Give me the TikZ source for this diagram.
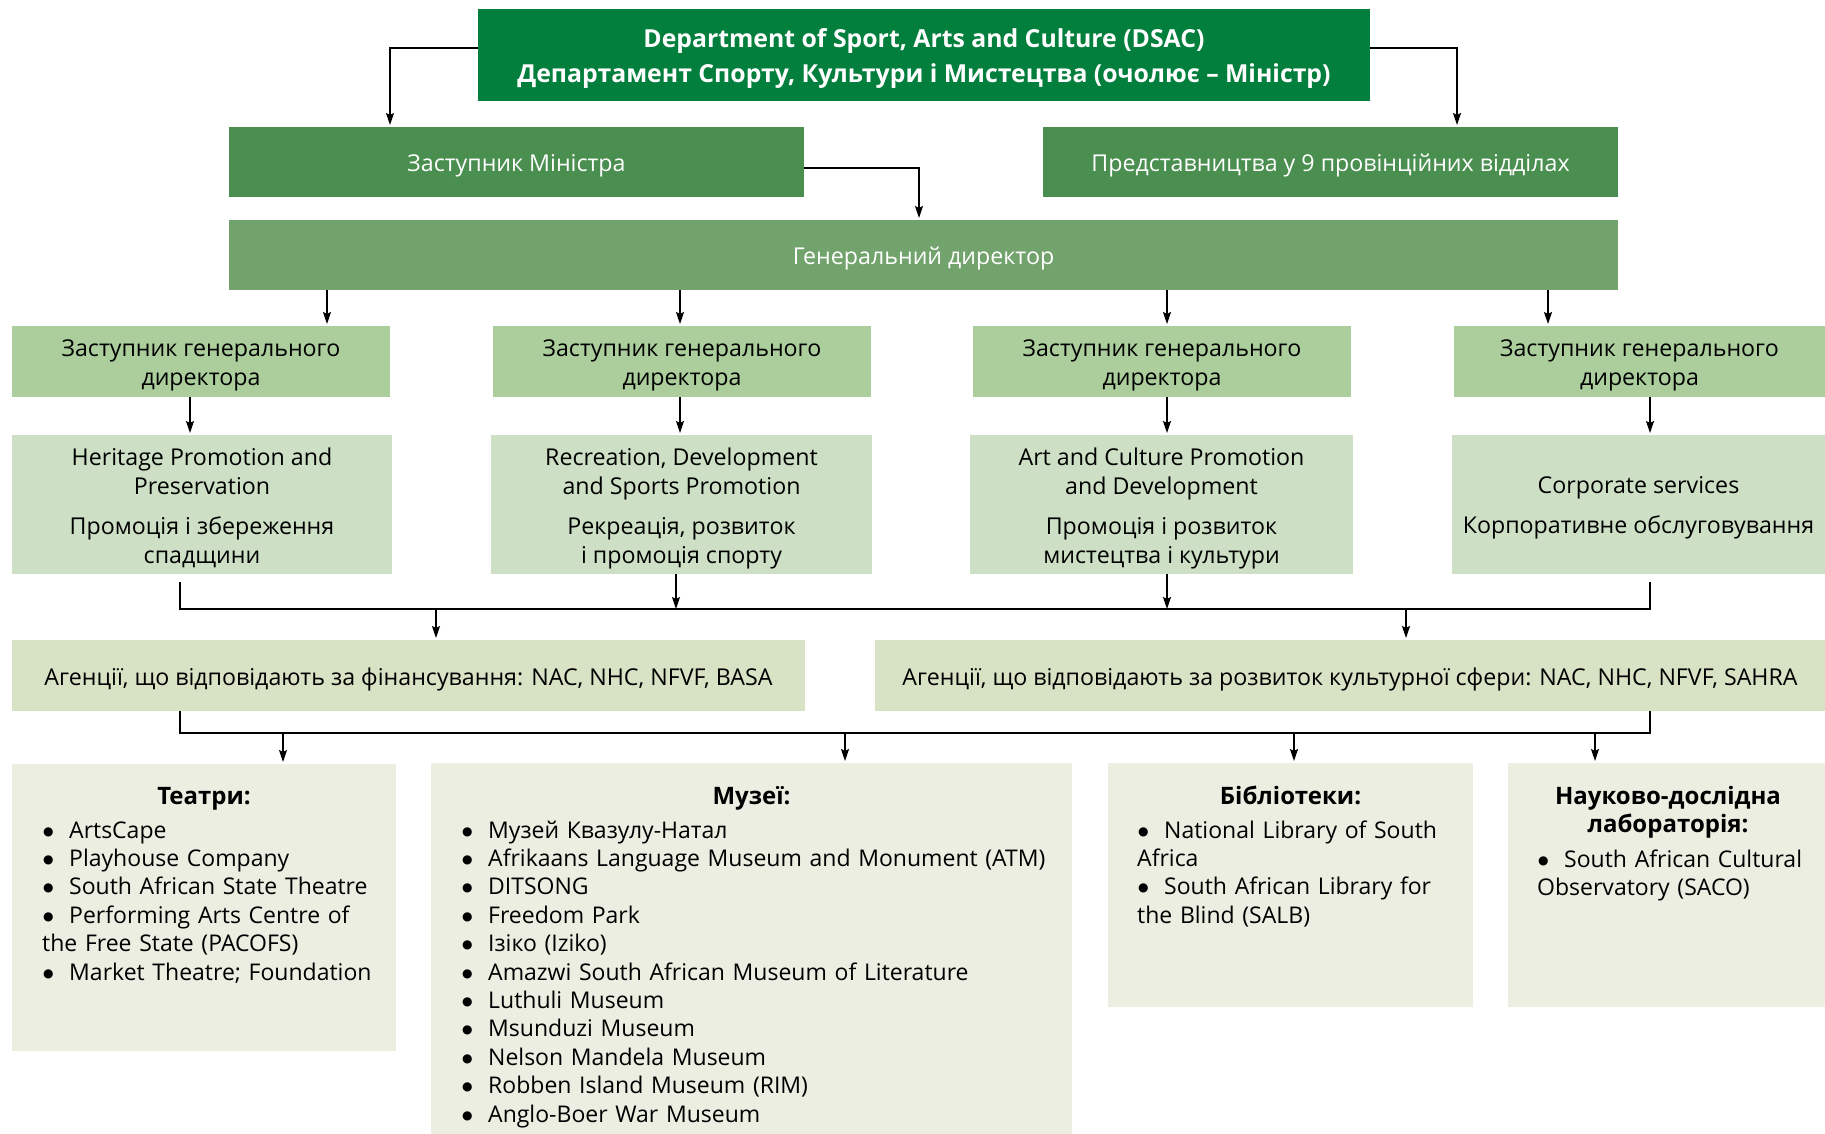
\documentclass[tikz,border=0pt]{standalone}
\usepackage{fontspec}
\setmainfont{Open Sans}
\newfontfamily\dvs{DejaVu Sans}
\usetikzlibrary{arrows.meta,calc}
\definecolor{cTop}{HTML}{027F3C}
\definecolor{cMid}{HTML}{4A8F50}
\definecolor{cGd}{HTML}{73A36D}
\definecolor{cDdg}{HTML}{ABCE9C}
\definecolor{cDep}{HTML}{CDE0C5}
\definecolor{cAg}{HTML}{D8E2C5}
\definecolor{cBot}{HTML}{EBEEE1}
\newcommand\itm{\makebox[27pt][l]{\hspace{1pt}\raisebox{3pt}{{\dvs\fontsize{12}{12}\selectfont ●}}}}
\begin{document}
\begin{tikzpicture}[x=1pt,y=-1pt,
  box/.style={rectangle,inner sep=0pt,outer sep=0pt,draw=none},
  txt/.style={font=\fontsize{23.2}{29}\selectfont,inner sep=0pt,align=center},
  ttl/.style={font=\fontsize{24.8}{35}\selectfont\bfseries,inner sep=0pt,align=center},
  lst/.style={font=\fontsize{23}{28.4}\selectfont,inner sep=0pt,anchor=base west,align=left},
  hdr/.style={font=\fontsize{24}{28}\selectfont\bfseries,inner sep=0pt,anchor=base,align=center},
  ln/.style={line width=1.6pt,black},
  arr/.style={ln,-{Stealth[length=12pt,width=8pt,inset=2pt]},shorten >=2pt}]
\fill[white] (0,0) rectangle (1825,1134);
\useasboundingbox (0,0) rectangle (1825,1134);

% top levels
\node[box,fill=cTop,minimum width=892pt,minimum height=92pt] (dsac) at (924,55) {};
\node[ttl,text=white] (dsacT) at ([yshift=-3.5pt]dsac.center)
  {Department of Sport, Arts and Culture (DSAC)\\Департамент Спорту, Культури і Мистецтва (очолює – Міністр)};
\node[box,fill=cMid,minimum width=575pt,minimum height=70pt] (dm) at (516.5,162) {};
\node[txt,text=white] (dmT) at ([yshift=-3.5pt]dm.center) {Заступник Міністра};
\node[box,fill=cMid,minimum width=575pt,minimum height=70pt] (prov) at (1330.5,162) {};
\node[txt,text=white] (provT) at ([yshift=-3.5pt]prov.center) {Представництва у 9 провінційних відділах};
\node[box,fill=cGd,minimum width=1389pt,minimum height=70pt] (gd) at (923.5,255) {};
\node[txt,text=white] (gdT) at ([yshift=-3.5pt]gd.center) {Генеральний директор};

% deputy directors general
\node[box,fill=cDdg,minimum width=378pt,minimum height=71pt] (ddg1) at (201,361.5) {};
\node[box,fill=cDdg,minimum width=378pt,minimum height=71pt] (ddg2) at (682,361.5) {};
\node[box,fill=cDdg,minimum width=378pt,minimum height=71pt] (ddg3) at (1162,361.5) {};
\node[box,fill=cDdg,minimum width=371pt,minimum height=71pt] (ddg4) at (1639.5,361.5) {};
\node[txt] (ddg1T) at ([yshift=-3.5pt]ddg1.center) {Заступник генерального\\директора};
\node[txt] (ddg2T) at ([yshift=-3.5pt]ddg2.center) {Заступник генерального\\директора};
\node[txt] (ddg3T) at ([yshift=-3.5pt]ddg3.center) {Заступник генерального\\директора};
\node[txt] (ddg4T) at ([yshift=-3.5pt]ddg4.center) {Заступник генерального\\директора};

% departments
\node[box,fill=cDep,minimum width=380pt,minimum height=139pt] (d1) at (202,504.5) {};
\node[box,fill=cDep,minimum width=381pt,minimum height=139pt] (d2) at (681.5,504.5) {};
\node[box,fill=cDep,minimum width=383pt,minimum height=139pt] (d3) at (1161.5,504.5) {};
\node[box,fill=cDep,minimum width=373pt,minimum height=139pt] (d4) at (1638.5,504.5) {};
\node[txt] (d1T) at ([yshift=-3.5pt]d1.center)
  {Heritage Promotion and\\Preservation\\[11pt]Промоція і збереження\\спадщини};
\node[txt] (d2T) at ([yshift=-3.5pt]d2.center)
  {Recreation, Development\\and Sports Promotion\\[11pt]Рекреація, розвиток\\і промоція спорту};
\node[txt] (d3T) at ([yshift=-3.5pt]d3.center)
  {Art and Culture Promotion\\and Development\\[11pt]Промоція і розвиток\\мистецтва і культури};
\node[txt] (d4T) at ([yshift=-3.5pt]d4.center)
  {Corporate services\\[11pt]Корпоративне обслуговування};

% agencies
\node[box,fill=cAg,minimum width=793pt,minimum height=71pt] (a1) at (408.5,675.5) {};
\node[box,fill=cAg,minimum width=950pt,minimum height=71pt] (a2) at (1350,675.5) {};
\node[txt] (a1T) at ([yshift=-3.5pt]a1.center)
  {Агенції, що відповідають за фінансування: NAC, NHC, NFVF, BASA};
\node[txt] (a2T) at ([yshift=-3.5pt]a2.center)
  {Агенції, що відповідають за розвиток культурної сфери: NAC, NHC, NFVF, SAHRA};

% bottom boxes
\node[box,fill=cBot,minimum width=384pt,minimum height=287pt] (th) at (204,907.5) {};
\node[box,fill=cBot,minimum width=641pt,minimum height=371pt] (mu) at (751.5,948.5) {};
\node[box,fill=cBot,minimum width=365pt,minimum height=244pt] (li) at (1290.5,885) {};
\node[box,fill=cBot,minimum width=317pt,minimum height=244pt] (re) at (1666.5,885) {};

\node[hdr,text width=380pt] (thH) at (204,804) {Театри:};
\node[lst,text width=350pt] (thL) at (42,838) {\itm ArtsCape\\
\itm Playhouse Company\\
\itm South African State Theatre\\
\itm Performing Arts Centre of\\
the Free State (PACOFS)\\
\itm Market Theatre; Foundation};

\node[hdr,text width=600pt] (muH) at (751.5,804) {Музеї:};
\node[lst,text width=600pt] (muL) at (461,838) {\itm Музей Квазулу-Натал\\
\itm Afrikaans Language Museum and Monument (ATM)\\
\itm DITSONG\\
\itm Freedom Park\\
\itm Ізіко (Iziko)\\
\itm Amazwi South African Museum of Literature\\
\itm Luthuli Museum\\
\itm Msunduzi Museum\\
\itm Nelson Mandela Museum\\
\itm Robben Island Museum (RIM)\\
\itm Anglo-Boer War Museum};

\node[hdr,text width=360pt] (liH) at (1290.5,804) {Бібліотеки:};
\node[lst,text width=340pt] (liL) at (1137,838) {\itm National Library of South\\
Africa\\
\itm South African Library for\\
the Blind (SALB)};

\node[hdr,text width=310pt] (reH) at (1668,804) {Науково-дослідна\\лабораторія:};
\node[lst,text width=290pt] (reL) at (1537,867) {\itm South African Cultural\\
Observatory (SACO)};

% connector bend points
\coordinate (k1) at (390,48);
\coordinate (k2) at (1457,48);
\coordinate (k3) at (919,168);
\coordinate (c1) at (327,300); \coordinate (c2) at (680,300);
\coordinate (c3) at (1167,300); \coordinate (c4) at (1548,300);
\coordinate (e1) at (190,420); \coordinate (e2) at (680,420);
\coordinate (e3) at (1167,420); \coordinate (e4) at (1650,420);
\coordinate (bL) at (180,609); \coordinate (bR) at (1650,609);
\coordinate (f2) at (676,609); \coordinate (f3) at (1167,609);
\coordinate (g1) at (436,609); \coordinate (g2) at (1406,609);
\coordinate (hL) at (180,733); \coordinate (hR) at (1650,733);
\coordinate (i1) at (283,733); \coordinate (i2) at (845,733);
\coordinate (i3) at (1294,733); \coordinate (i4) at (1595,733);

\draw[arr] (dsac.west |- k1) -- (k1) -- (k1 |- dm.north);
\draw[arr] (dsac.east |- k2) -- (k2) -- (k2 |- prov.north);
\draw[arr] (dm.east |- k3) -- (k3) -- (k3 |- gd.north);

\draw[arr] (c1 |- gd.south) -- (c1 |- ddg1.north);
\draw[arr] (c2 |- gd.south) -- (c2 |- ddg2.north);
\draw[arr] (c3 |- gd.south) -- (c3 |- ddg3.north);
\draw[arr] (c4 |- gd.south) -- (c4 |- ddg4.north);

\draw[arr] (e1 |- ddg1.south) -- (e1 |- d1.north);
\draw[arr] (e2 |- ddg2.south) -- (e2 |- d2.north);
\draw[arr] (e3 |- ddg3.south) -- (e3 |- d3.north);
\draw[arr] (e4 |- ddg4.south) -- (e4 |- d4.north);

\draw[ln] ([yshift=-8pt]bL |- d1.south) -- (bL) -- (bR) -- ([yshift=-8pt]bR |- d4.south);
\draw[ln,-{Stealth[length=12pt,width=8pt,inset=2pt]}] (f2 |- d2.south) -- (f2);
\draw[ln,-{Stealth[length=12pt,width=8pt,inset=2pt]}] (f3 |- d3.south) -- (f3);
\draw[arr] (g1) -- (g1 |- a1.north);
\draw[arr] (g2) -- (g2 |- a2.north);

\draw[ln] (hL |- a1.south) -- (hL) -- (hR) -- (hR |- a2.south);
\draw[arr] (i1) -- (i1 |- th.north);
\draw[arr] (i2) -- (i2 |- mu.north);
\draw[arr] (i3) -- (i3 |- li.north);
\draw[arr] (i4) -- (i4 |- re.north);
\end{tikzpicture}
\end{document}
